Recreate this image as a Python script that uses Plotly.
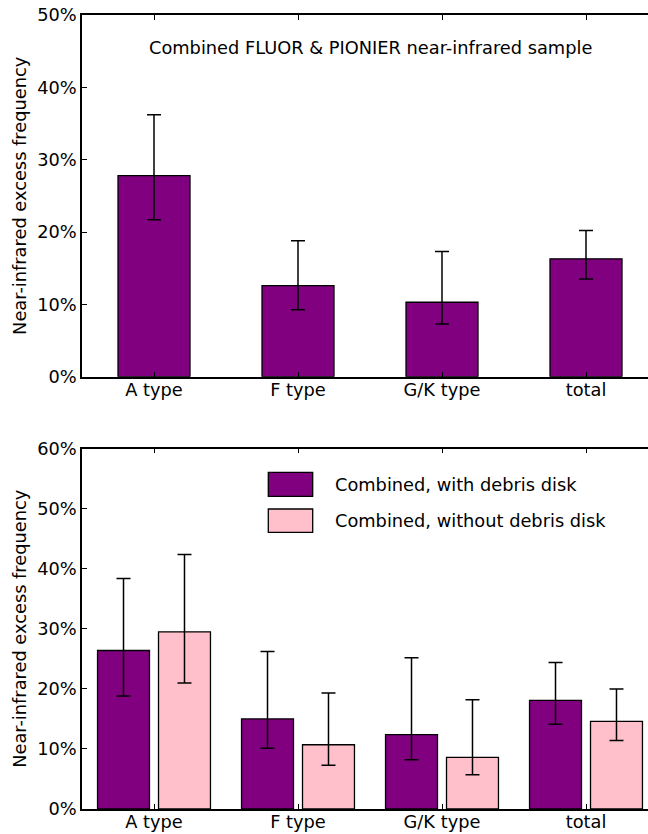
import plotly.graph_objects as go

# ---------------- data ----------------
categories = ["A type", "F type", "G/K type", "total"]

# top panel: combined FLUOR & PIONIER sample (%)
top_values = [27.8, 12.6, 10.3, 16.3]
top_upper = [36.2, 18.8, 17.3, 20.2]
top_lower = [21.7, 9.25, 7.3, 13.5]

# bottom panel (%)
with_values = [26.4, 15.0, 12.4, 18.1]
with_upper = [38.4, 26.25, 25.2, 24.4]
with_lower = [18.8, 10.1, 8.2, 14.1]

without_values = [29.5, 10.7, 8.6, 14.6]
without_upper = [42.4, 19.3, 18.2, 20.0]
without_lower = [21.0, 7.3, 5.7, 11.4]

top_yticks = [0, 10, 20, 30, 40, 50]
bottom_yticks = [0, 10, 20, 30, 40, 50, 60]

legend_labels = ["Combined, with debris disk", "Combined, without debris disk"]
panel_title = "Combined FLUOR & PIONIER near-infrared sample"
y_title = "Near-infrared excess frequency"

PURPLE = "#800080"
PINK = "#FFC0CB"
FONT = "DejaVu Sans"
FS = 17.8

W, H = 648, 834
L, R, T, B = 82, 0, 15, 24.5
plot_w = W - L - R
plot_h = H - T - B


def px_x(px):
    return (px - L) / plot_w


def px_y(py):
    return (H - B - py) / plot_h


def err(vals, up, lo):
    return dict(type="data", symmetric=False,
                array=[u - v for u, v in zip(up, vals)],
                arrayminus=[v - l for v, l in zip(vals, lo)],
                color="black", thickness=1.5, width=7)


fig = go.Figure()

fig.add_trace(go.Bar(x=categories, y=top_values, width=0.5,
                     marker=dict(color=PURPLE, line=dict(color="black", width=1.3)),
                     error_y=err(top_values, top_upper, top_lower),
                     xaxis="x", yaxis="y", showlegend=False))

fig.add_trace(go.Bar(x=categories, y=with_values, name=legend_labels[0],
                     marker=dict(color=PURPLE, line=dict(color="black", width=1.3)),
                     error_y=err(with_values, with_upper, with_lower),
                     xaxis="x2", yaxis="y2", showlegend=False))
fig.add_trace(go.Bar(x=categories, y=without_values, name=legend_labels[1],
                     marker=dict(color=PINK, line=dict(color="black", width=1.3)),
                     error_y=err(without_values, without_upper, without_lower),
                     xaxis="x2", yaxis="y2", showlegend=False))

xr = [-0.5, -0.5 + plot_w / 144.0]

xcommon = dict(range=xr, showline=True, linecolor="black", linewidth=1.5,
               mirror="allticks", ticks="inside", ticklen=5, tickwidth=1,
               tickcolor="black", showgrid=False, zeroline=False,
               ticklabelstandoff=-4,
               tickfont=dict(family=FONT, size=FS, color="black"))
ycommon = dict(showline=True, linecolor="black", linewidth=1.5, ticks="inside",
               ticklen=5, tickwidth=1, tickcolor="black", showgrid=False,
               zeroline=False,
               tickfont=dict(family=FONT, size=FS, color="black"))

top_bottom_px = 377
bottom_top_px = 449

fig.update_layout(
    width=W, height=H,
    margin=dict(l=L, r=R, t=T, b=B, pad=0),
    paper_bgcolor="white", plot_bgcolor="white",
    barmode="group", bargap=0.153, bargroupgap=0.148,
    font=dict(family=FONT, size=FS, color="black"),
    xaxis=dict(domain=[0, 1], anchor="y", automargin=False, **xcommon),
    yaxis=dict(domain=[px_y(top_bottom_px), 1], anchor="x", range=[0, 50],
               tickvals=top_yticks, ticktext=[f"{v}%" for v in top_yticks],
               automargin=False, **ycommon),
    xaxis2=dict(domain=[0, 1], anchor="y2", automargin=False, **xcommon),
    yaxis2=dict(domain=[0, px_y(bottom_top_px)], anchor="x2", range=[0, 60],
                tickvals=bottom_yticks, ticktext=[f"{v}%" for v in bottom_yticks],
                automargin=False, **ycommon),
    showlegend=False,
)

annotations = [
    dict(text=panel_title, xref="paper", yref="paper", x=px_x(370), y=px_y(48),
         xanchor="center", yanchor="middle", showarrow=False,
         font=dict(family=FONT, size=FS, color="black")),
    dict(text=y_title, xref="paper", yref="paper", x=px_x(20),
         y=(px_y(top_bottom_px) + 1) / 2, textangle=-90, xanchor="center",
         yanchor="middle", showarrow=False, font=dict(family=FONT, size=FS, color="black")),
    dict(text=y_title, xref="paper", yref="paper", x=px_x(20),
         y=px_y(bottom_top_px) / 2, textangle=-90, xanchor="center",
         yanchor="middle", showarrow=False, font=dict(family=FONT, size=FS, color="black")),
]

shapes = []
legend_colors = [PURPLE, PINK]
legend_rows = [(472.7, 496.7), (509.3, 532.7)]
for (y0p, y1p), col, lab in zip(legend_rows, legend_colors, legend_labels):
    shapes.append(dict(type="rect", xref="paper", yref="paper",
                       x0=px_x(268.3), x1=px_x(312.7), y0=px_y(y1p), y1=px_y(y0p),
                       fillcolor=col, line=dict(color="black", width=1.3)))
    annotations.append(dict(text=lab, xref="paper", yref="paper", x=px_x(333),
                            y=px_y((y0p + y1p) / 2), xanchor="left", yanchor="middle",
                            showarrow=False, font=dict(family=FONT, size=FS, color="black")))

fig.update_layout(annotations=annotations, shapes=shapes)

fig.write_html("out.html",
               config={"displayModeBar": False},
               post_script="document.body.style.margin='0';"
                           "document.body.style.overflow='hidden';")
